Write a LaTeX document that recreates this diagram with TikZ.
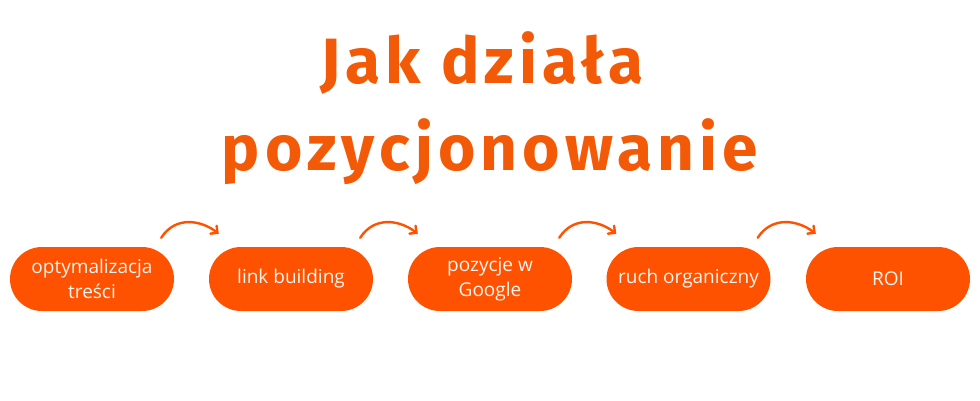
\documentclass[tikz,border=0pt]{standalone}
\usepackage{fontspec}
\setmainfont{Open Sans}
\newfontfamily\titlefont[LetterSpace=8]{Fira Sans Bold}
\usetikzlibrary{arrows.meta}
\definecolor{pillorange}{HTML}{FF5200}
\definecolor{titleorange}{HTML}{F25A08}
\definecolor{pilltext}{HTML}{FFF4EE}
\tikzset{
  pill/.style={fill=pillorange, rounded corners=32pt, minimum width=164pt, minimum height=64pt,
    inner sep=0pt, text=pilltext, align=center, font=\fontsize{19}{25}\selectfont},
  flowarrow/.style={draw=pillorange, line width=2.4pt, line cap=round,
    -{Straight Barb[length=5pt,width=10pt,line cap=round]}},
  titletext/.style={text=titleorange, font=\titlefont\fontsize{64}{88}\selectfont, inner sep=0pt}
}
\begin{document}
\begin{tikzpicture}[x=1pt,y=-1pt]
\useasboundingbox (0,0) rectangle (980,400);
\node[titletext, anchor=base] (t1) at (490,83) {Jak działa\hspace*{0.25em}};
\node[titletext, anchor=base] (t2) at (490,170) {pozycjonowanie};
\node[pill] (p1) at (92,279) {optymalizacja\\treści};
\node[pill] (p2) at (291,279) {link building};
\node[pill] (p3) at (490,279) {pozycje w\\Google};
\node[pill] (p4) at (688.5,279) {ruch organiczny};
\node[pill] (p5) at (888,279) {ROI};
\foreach \a/\b in {p1/p2,p2/p3,p3/p4,p4/p5}{
  \draw[flowarrow] ([shift={(-13,-9)}]\a.north east) .. controls +(14,-22) and +(-18,-14) .. ([shift={(10,-13)}]\b.north west);
}
\end{tikzpicture}
\end{document}
